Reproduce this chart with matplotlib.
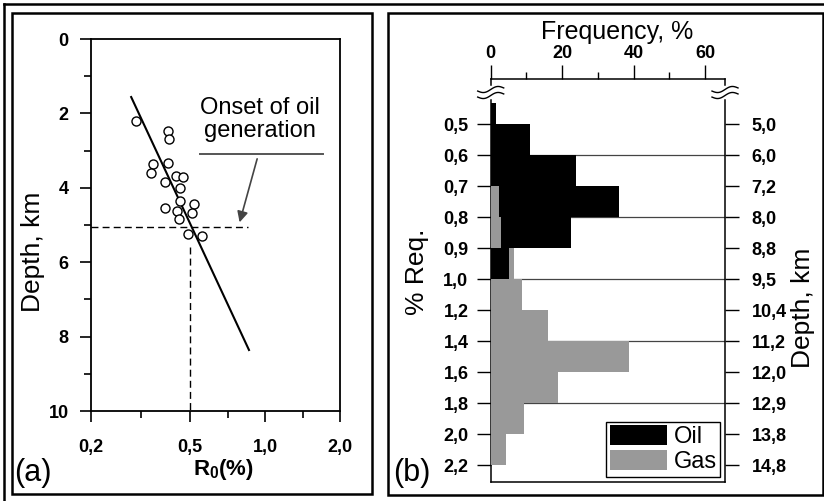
import matplotlib
matplotlib.use("Agg")
import matplotlib.pyplot as plt
import numpy as np
from matplotlib.patches import Rectangle
from matplotlib.lines import Line2D
from matplotlib.ticker import NullFormatter

plt.rcParams['font.family'] = ['Liberation Sans', 'DejaVu Sans']
plt.rcParams['mathtext.fontset'] = 'custom'
plt.rcParams['mathtext.rm'] = 'Liberation Sans'
plt.rcParams['mathtext.bf'] = 'Liberation Sans:bold'

# ---- panel (a): vitrinite reflectance vs depth ----
r0 = [0.303, 0.406, 0.41, 0.356, 0.347, 0.406, 0.438, 0.468, 0.395, 0.457,
      0.455, 0.395, 0.442, 0.519, 0.507, 0.453, 0.489, 0.557]
depth = [2.20, 2.46, 2.70, 3.36, 3.61, 3.34, 3.68, 3.72, 3.84, 4.01,
         4.36, 4.55, 4.62, 4.43, 4.69, 4.85, 5.24, 5.29]
fit_r0 = [0.29, 0.862]
fit_depth = [1.56, 8.36]
onset_depth = 5.05
onset_r0 = 0.5
onset_r0_end = 0.853      # end of the horizontal dashed line
onset_depth_start = 5.6   # start of the vertical dashed line
r0_ticks = [0.2, 0.5, 1.0, 2.0]
r0_labels = ['0,2', '0,5', '1,0', '2,0']
depth_ticks = [0, 2, 4, 6, 8, 10]
depth_minor = [1, 3, 5, 7, 9]

# ---- panel (b): frequency histograms ----
req_labels = ['0,5', '0,6', '0,7', '0,8', '0,9', '1,0', '1,2', '1,4', '1,6', '1,8', '2,0', '2,2']
depth_labels = ['5,0', '6,0', '7,2', '8,0', '8,8', '9,5', '10,4', '11,2', '12,0', '12,9', '13,8', '14,8']
oil_bins = [-1, 0, 1, 2, 3, 4]          # row index where each bin starts
oil_freq = [1.5, 11, 24, 36, 22.5, 5.2]
gas_bins = [2, 3, 4, 5, 6, 7, 8, 9, 10]
gas_freq = [2.3, 3.0, 6.6, 8.7, 16, 38.8, 18.9, 9.2, 4.2]
ref_rows = [1, 3, 5, 7, 9]
freq_ticks = [0, 20, 40, 60]
freq_minor = [10, 30, 50]

W, H = 824, 501
fig = plt.figure(figsize=(W / 100, H / 100), dpi=100)


def box(x0, y0, x1, y1):
    # pixel box (top-left origin) -> figure fraction rect
    return [x0 / W, 1 - y1 / H, (x1 - x0) / W, (y1 - y0) / H]


def fig_line(xs, ys, **kw):
    # line in pixel coords (top-left origin)
    fig.add_artist(Line2D(np.asarray(xs) / W, 1 - np.asarray(ys) / H,
                          transform=fig.transFigure, **kw))


# ------------------ (a) ------------------
ax = fig.add_axes(box(91, 39, 340, 411))
ax.set_xscale('log')
ax.set_xlim(0.2, 2.0)
ax.set_ylim(10, 0)

ax.plot(r0, depth, 'o', mfc='white', mec='black', ms=6.5, mew=1.0, zorder=3)
ax.plot(fit_r0, fit_depth, color='black', lw=1.5)
ax.plot([0.2, onset_r0_end], [onset_depth, onset_depth], color='black', lw=1, ls=(0, (5, 3)))
ax.plot([onset_r0, onset_r0], [onset_depth_start, 10], color='black', lw=1, ls=(0, (5, 3)))

ax.text(0.955, 2.16, 'Onset of oil\ngeneration', ha='center', va='center',
        fontsize=17, linespacing=1.1)
ax.plot([0.548, 1.709], [3.09, 3.09], color='#555555', lw=1.4)
ax.annotate('', xy=(0.785, 5.0), xytext=(0.936, 3.15),
            arrowprops=dict(arrowstyle='-|>', color='#444444', lw=1.2, mutation_scale=16))

ax.set_xticks(r0_ticks)
ax.set_xticklabels(r0_labels, fontweight='bold', fontsize=13)
ax.set_xticks(np.sqrt(np.array(r0_ticks[:-1]) * np.array(r0_ticks[1:])), minor=True)
ax.xaxis.set_minor_formatter(NullFormatter())
ax.set_yticks(depth_ticks)
ax.set_yticklabels([str(t) for t in depth_ticks], fontweight='bold', fontsize=13)
ax.set_yticks(depth_minor, minor=True)
ax.tick_params(which='major', direction='out', length=8, width=1.2)
ax.tick_params(which='minor', direction='out', length=5, width=1.2)
ax.tick_params(axis='y', pad=8)
ax.tick_params(axis='x', pad=12)
for s in ax.spines.values():
    s.set_linewidth(1.3)

fig.text(33 / W, 1 - 252 / H, 'Depth, km', rotation=90, fontsize=19, ha='center', va='center')
fig.text(223 / W, 1 - 469 / H, r'$\mathbf{R_0(\%)}$', fontsize=16, ha='center', va='center')
fig.text(14 / W, 1 - 473 / H, '(a)', fontsize=22, ha='left', va='center')

# ------------------ (b) ------------------
bx = fig.add_axes(box(490.7, 79, 725, 481.7))
bx.set_xlim(0, 65.6)
ylim = (11.53, -1.46)
bx.set_ylim(ylim)
spine_top = -0.78

oil = dict(zip(oil_bins, oil_freq))
gas = dict(zip(gas_bins, gas_freq))
oil_bars = bx.barh([b + 0.5 for b in oil_bins], oil_freq, height=1, color='black', label='Oil')
gas_bars = bx.barh([b + 0.5 for b in gas_bins], gas_freq, height=1, color='#999999', label='Gas')
clip = Rectangle((0, spine_top + 0.08), 100, 20, transform=bx.transData)
for b, bar in zip(oil_bins, oil_bars):
    bar.set_zorder(3 if oil[b] < gas.get(b, np.inf) else 2)
    bar.set_clip_path(clip)
for b, bar in zip(gas_bins, gas_bars):
    bar.set_zorder(3 if gas[b] < oil.get(b, np.inf) else 2)

for r in ref_rows:
    bx.axhline(r, color='#444444', lw=0.9, zorder=1)

bx.xaxis.tick_top()
bx.set_xticks(freq_ticks)
bx.set_xticklabels([str(t) for t in freq_ticks], fontweight='bold', fontsize=13)
bx.set_xticks(freq_minor, minor=True)
bx.set_yticks(range(len(req_labels)))
bx.set_yticklabels(req_labels, fontweight='bold', fontsize=13)
bx.tick_params(which='major', direction='out', length=10, width=1.0)
bx.tick_params(which='minor', direction='out', length=5, width=1.0)
bx.tick_params(axis='y', pad=6)
bx.tick_params(axis='x', pad=2)

for s in bx.spines.values():
    s.set_linewidth(1.1)
bx.spines['left'].set_bounds(spine_top, ylim[0])
bx.spines['right'].set_bounds(spine_top, ylim[0])
ytr = bx.get_yaxis_transform()
for xa in (0, 1):
    bx.plot([xa, xa], [ylim[1], -1.26], color='black', lw=1.1, transform=ytr, clip_on=False)

# axis-break marks (two wavy strokes across each side spine)
wave_x = np.linspace(-13, 13, 40)
for cx in (490.7, 725):
    for cy in (89.5, 95.5):
        fig_line(cx + wave_x, cy - 0.12 * wave_x - 2.2 * np.sin(wave_x / 13 * np.pi),
                 color='black', lw=1.0)

tx = bx.twinx()
tx.set_ylim(ylim)
tx.set_yticks(range(len(depth_labels)))
tx.set_yticklabels(depth_labels, fontweight='bold', fontsize=13)
tx.tick_params(direction='out', length=10, width=1.0, pad=9)
for s in tx.spines.values():
    s.set_visible(False)

leg = bx.legend(loc='lower right', fancybox=False, edgecolor='black', fontsize=17,
                handlelength=2.4, handleheight=0.9, borderpad=0.15, labelspacing=0.1,
                handletextpad=0.3, borderaxespad=0.2, framealpha=1)
leg.get_frame().set_linewidth(1.0)
leg.set_zorder(5)

fig.text(617 / W, 1 - 32 / H, 'Frequency, %', fontsize=18, ha='center', va='center')
fig.text(417 / W, 1 - 272 / H, '% Req.', rotation=90, fontsize=19, ha='center', va='center')
fig.text(803 / W, 1 - 308 / H, 'Depth, km', rotation=90, fontsize=19, ha='center', va='center')
fig.text(393 / W, 1 - 473 / H, '(b)', fontsize=22, ha='left', va='center')

# ------------------ panel frames ------------------
for (x0, y0, x1, y1) in [(11.5, 13, 371.5, 494), (388, 13, 823, 495)]:
    fig.add_artist(Rectangle((x0 / W, 1 - y1 / H), (x1 - x0) / W, (y1 - y0) / H,
                             transform=fig.transFigure, fill=False, ec='black', lw=1.8))
fig_line([4, W], [4, 4], color='black', lw=1.8)
fig_line([4, 4], [4, H], color='black', lw=1.8)

fig.savefig('out.png', dpi=100)
